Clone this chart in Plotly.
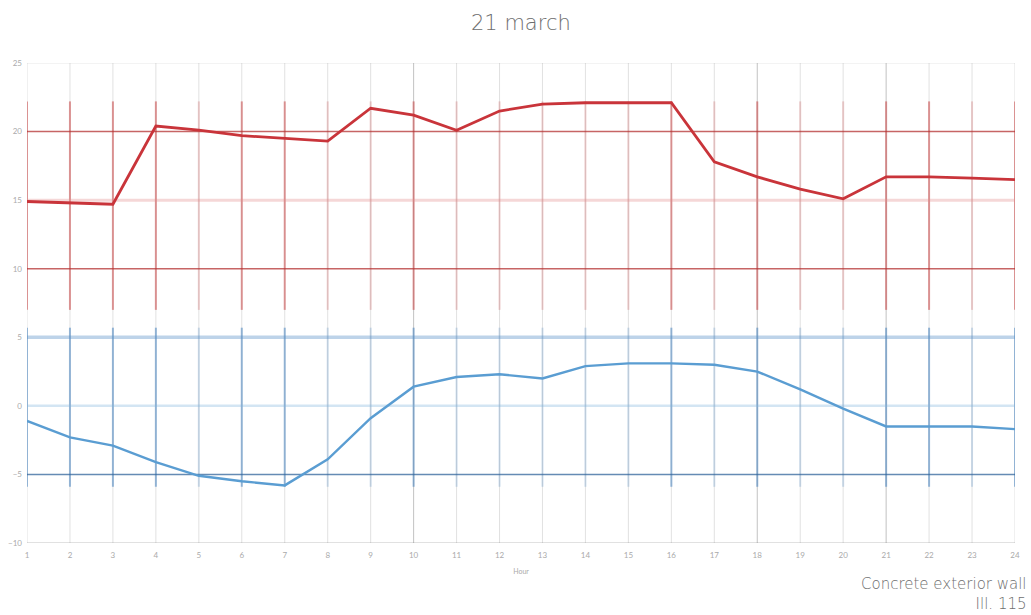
import plotly.graph_objects as go

# Hourly temperatures, 21 March
hours = list(range(1, 25))
inside_temp = [14.9, 14.8, 14.7, 20.4, 20.1, 19.7, 19.5, 19.3, 21.7, 21.2, 20.1, 21.5,
               22.0, 22.1, 22.1, 22.1, 17.8, 16.7, 15.8, 15.1, 16.7, 16.7, 16.6, 16.5]
outside_temp = [-1.1, -2.3, -2.9, -4.1, -5.1, -5.5, -5.8, -3.9, -0.9, 1.4, 2.1, 2.3,
                2.0, 2.9, 3.1, 3.1, 3.0, 2.5, 1.2, -0.2, -1.5, -1.5, -1.5, -1.7]
y_ticks = [-10, -5, 0, 5, 10, 15, 20, 25]

# per-hour strength of the vertical grid segments
strong = {1, 2, 3, 4, 6, 7, 10, 16, 18, 21, 22, 24}

RED = "#c9343a"
BLUE = "#5a9dd2"
TEXT = "#6e6e6e"
LABEL_FONT = "DejaVu Sans"

fig = go.Figure()
shapes = []

# full-height light grey verticals plus coloured segments per band
for h in hours:
    shapes.append(dict(type="line", xref="x", yref="y", x0=h, x1=h, y0=-10, y1=25,
                       line=dict(color="rgba(120,120,120,%s)" % (0.45 if h in (10, 18, 21) else 0.22), width=1),
                       layer="below"))
    a = 0.55 if h in strong else 0.25
    shapes.append(dict(type="line", xref="x", yref="y", x0=h, x1=h, y0=7.0, y1=22.2,
                       line=dict(color="rgba(200,70,70,%s)" % a, width=2), layer="below"))
    shapes.append(dict(type="line", xref="x", yref="y", x0=h, x1=h, y0=-5.9, y1=5.7,
                       line=dict(color="rgba(70,130,190,%s)" % a, width=2), layer="below"))

# horizontal guide lines
hlines = [
    (25, "rgba(160,160,160,0.25)", 1),
    (20, "rgba(180,50,50,0.75)", 1.5),
    (15, "rgba(225,140,140,0.35)", 3),
    (10, "rgba(180,50,50,0.75)", 1.5),
    (5, "rgba(90,145,200,0.40)", 3.5),
    (0, "rgba(130,180,220,0.35)", 2.5),
    (-5, "rgba(50,100,155,0.75)", 1.5),
    (-10, "rgba(120,120,120,0.45)", 1),
]
for yv, col, w in hlines:
    shapes.append(dict(type="line", xref="x", yref="y", x0=1, x1=24, y0=yv, y1=yv,
                       line=dict(color=col, width=w), layer="below"))

fig.add_trace(go.Scatter(x=hours, y=inside_temp, mode="lines",
                         line=dict(color=RED, width=2.8), showlegend=False))
fig.add_trace(go.Scatter(x=hours, y=outside_temp, mode="lines",
                         line=dict(color=BLUE, width=2.4), showlegend=False))

fig.update_layout(
    width=1031, height=615,
    margin=dict(l=27, r=16, t=63, b=72, autoexpand=False),
    paper_bgcolor="white", plot_bgcolor="white",
    shapes=shapes,
    font=dict(family="Lato", color="#999"),
    xaxis=dict(range=[1, 24], tickvals=hours, showgrid=False, zeroline=False,
               showline=False, ticks="", ticklabelstandoff=6, automargin=False,
               tickfont=dict(size=8, color="#aaa"),
               title=dict(text="Hour", font=dict(size=7, color="#aaa"), standoff=10)),
    yaxis=dict(range=[-10, 25], tickvals=y_ticks, showgrid=False, zeroline=False,
               showline=False, ticks="", ticklabelstandoff=4, automargin=False,
               tickfont=dict(size=8, color="#aaa")),
    annotations=[
        dict(text="21 march", xref="paper", yref="paper", x=0.5, y=1,
             yshift=40, xanchor="center", yanchor="middle", showarrow=False,
             font=dict(family=LABEL_FONT, size=21, color=TEXT, weight=200)),
        dict(text="Concrete exterior wall<br>Ill. 115", xref="paper", yref="paper",
             x=1, y=0, xshift=14, yshift=-72, xanchor="right", yanchor="bottom",
             align="right", showarrow=False,
             font=dict(family=LABEL_FONT, size=15, color=TEXT, weight=200)),
    ],
)

fig.write_html("out.html")
